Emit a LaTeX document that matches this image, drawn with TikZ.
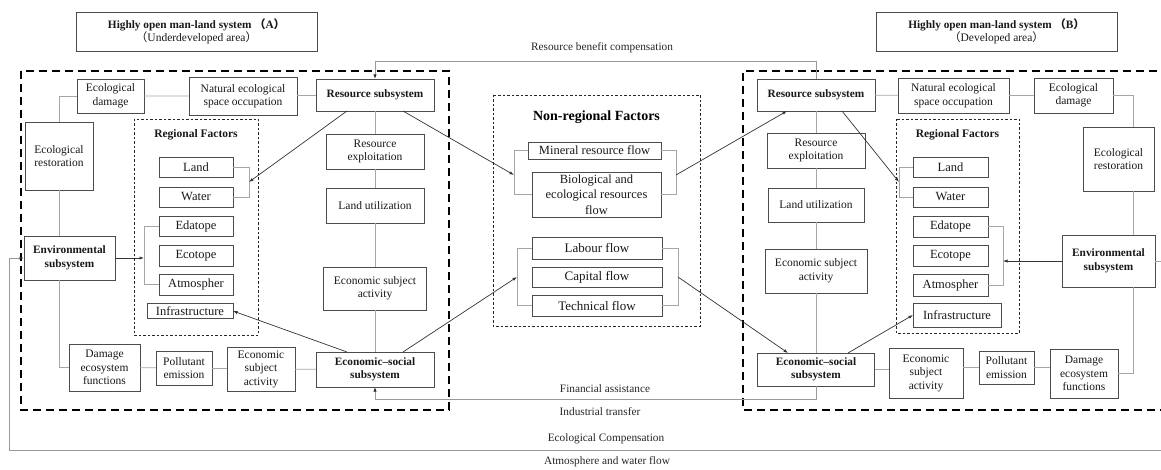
\documentclass[tikz,border=0pt]{standalone}
\usepackage{fontspec}
\setmainfont{Liberation Serif}
\newfontfamily\cjk{Noto Sans CJK SC}
\usetikzlibrary{arrows.meta}
\begin{document}
\begin{tikzpicture}[x=1pt,y=-1pt,
  sz/.style 2 args={minimum width=#1pt,minimum height=#2pt},
  box/.style={draw=black!70,line width=0.9pt,fill=white,align=center,inner sep=1.5pt,outer sep=0pt,text=black!90,font=\fontsize{11.5}{13.5}\selectfont},
  bbox/.style={box,font=\fontsize{11.3}{13.5}\selectfont\bfseries},
  fbox/.style={box,font=\fontsize{12.5}{15.5}\selectfont},
  gbox/.style={box,font=\fontsize{13}{16}\selectfont},
  link/.style={draw=black!35,line width=0.8pt},
  arr/.style={draw=black!80,line width=0.7pt,-{Latex[length=4.5pt,width=3.2pt]}},
  comp/.style={draw=black!40,line width=0.8pt,-{Latex[length=4.5pt,width=3.2pt,color=black!85]}},
  bigdash/.style={draw=black,line width=2pt,dash pattern=on 8pt off 5pt},
  smalldash/.style={draw=black!85,line width=0.7pt,dash pattern=on 2.5pt off 2pt},
  lbl/.style={font=\fontsize{11.3}{13}\selectfont,text=black!85},
  head/.style={font=\fontsize{11.5}{13}\selectfont\bfseries,text=black!90}]
\useasboundingbox (0,0) rectangle (1161,470);
% frames
\draw[bigdash] (21,71) rectangle (449,410);
\draw[bigdash] (1170,71) -- (743,71) -- (743,410) -- (1170,410);
\draw[smalldash] (134,119) rectangle (258,335);
\draw[smalldash] (896,119) rectangle (1019,333);
\draw[smalldash] (493,95) rectangle (700,326);

% system A
\path (196.5,31.5) node[box,sz={241}{39}] (titleA) {{\bfseries\fontsize{11.3}{14}\selectfont Highly open man-land system {\cjk （}A{\cjk ）}}\\{\cjk （}Underdeveloped area{\cjk ）}};
\path (110.5,96) node[box,sz={67}{34}] (ecoDamA) {Ecological\\damage};
\path (243,96) node[box,sz={108}{38}] (natOccA) {Natural ecological\\space occupation};
\path (375,95) node[bbox,sz={118}{32}] (resA) {Resource subsystem};
\path (59,156) node[box,sz={68}{68}] (ecoRestA) {Ecological\\restoration};
\path (69.5,258) node[bbox,sz={91}{44}] (envA) {Environmental\\subsystem};
\path (375,151.5) node[box,sz={98}{35}] (resExpA) {Resource\\exploitation};
\path (375,205.5) node[box,sz={98}{35}] (landUtA) {Land utilization};
\path (375,288.5) node[box,sz={103}{43}] (ecoSubjA) {Economic subject\\activity};
\path (375,369.5) node[bbox,sz={118}{35}] (econSocA) {Economic--social\\subsystem};
\path (104.5,367.5) node[box,sz={71}{47}] (damEcoA) {Damage\\ecosystem\\functions};
\path (184,368) node[box,sz={56}{34}] (pollA) {Pollutant\\emission};
\path (261,369) node[box,sz={68}{44}] (ecoActA) {Economic\\subject\\activity};
\path (196,135) node[head] (regA) {Regional Factors};
\path (196,167) node[fbox,sz={74}{20}] (landA) {Land};
\path (196,197) node[fbox,sz={74}{20}] (waterA) {Water};
\path (196,226) node[fbox,sz={74}{20}] (edaA) {Edatope};
\path (196,255.5) node[fbox,sz={74}{21}] (ecoA) {Ecotope};
\path (196,284.5) node[fbox,sz={74}{21}] (atmA) {Atmospher};
\path (190,311) node[fbox,sz={86}{15},inner ysep=0.5pt] (infraA) {Infrastructure};

% non-regional factors
\path (596.5,117) node[font=\fontsize{14}{16}\selectfont\bfseries] (nonReg) {Non-regional Factors};
\path (594.5,150.5) node[fbox,sz={133}{17}] (minFlow) {Mineral resource flow};
\path (596.5,194.5) node[fbox,sz={129}{45}] (bioFlow) {Biological and\\ecological resources\\flow};
\path (597,248) node[gbox,sz={130}{22}] (labFlow) {Labour flow};
\path (597,277) node[gbox,sz={130}{20}] (capFlow) {Capital flow};
\path (597,305.5) node[gbox,sz={130}{21}] (techFlow) {Technical flow};

% system B
\path (996.5,31.5) node[box,sz={241}{39}] (titleB) {{\bfseries\fontsize{11.3}{14}\selectfont Highly open man-land system {\cjk （}B{\cjk ）}}\\{\cjk （}Developed area{\cjk ）}};
\path (816,95) node[bbox,sz={118}{32}] (resB) {Resource subsystem};
\path (953.5,95.5) node[box,sz={111}{35}] (natOccB) {Natural ecological\\space occupation};
\path (1073.5,95.5) node[box,sz={79}{35}] (ecoDamB) {Ecological\\damage};
\path (1118.5,159) node[box,sz={71}{64}] (ecoRestB) {Ecological\\restoration};
\path (1108.5,261) node[bbox,sz={93}{52}] (envB) {Environmental\\subsystem};
\path (816,150.5) node[box,sz={98}{35}] (resExpB) {Resource\\exploitation};
\path (816,205) node[box,sz={96}{34}] (landUtB) {Land utilization};
\path (816,271) node[box,sz={102}{44}] (ecoSubjB) {Economic subject\\activity};
\path (816,369.5) node[bbox,sz={117}{33}] (econSocB) {Economic--social\\subsystem};
\path (926,373) node[box,sz={74}{50}] (ecoActB) {Economic\\subject\\activity};
\path (1006.5,367.5) node[box,sz={55}{33}] (pollB) {Pollutant\\emission};
\path (1084,373.5) node[box,sz={68}{49}] (damEcoB) {Damage\\ecosystem\\functions};
\path (957.5,135) node[head] (regB) {Regional Factors};
\path (950.5,167) node[fbox,sz={75}{20}] (landB) {Land};
\path (950.5,197) node[fbox,sz={75}{20}] (waterB) {Water};
\path (950.5,226.5) node[fbox,sz={75}{21}] (edaB) {Edatope};
\path (950.5,255.5) node[fbox,sz={75}{21}] (ecoB) {Ecotope};
\path (950.5,285) node[fbox,sz={75}{22}] (atmB) {Atmospher};
\path (957,315) node[fbox,sz={88}{24}] (infraB) {Infrastructure};

% labels of the flows between A and B
\path (602,48) node[lbl] (lblRes) {Resource benefit compensation};
\path (605,389) node[lbl] (lblFin) {Financial assistance};
\path (600,412) node[lbl] (lblInd) {Industrial transfer};
\path (606,439) node[lbl] (lblEco) {Ecological Compensation};
\path (607,462) node[lbl] (lblAtm) {Atmosphere and water flow};

% free ends and bracket points
\coordinate (lwA) at (249,182);
\coordinate (eaA) at (144,258);
\coordinate (mfL) at (514,175);
\coordinate (mfR) at (676,175);
\coordinate (lfL) at (517,277);
\coordinate (lfR) at (678,277);
\coordinate (lwB) at (899,182);
\coordinate (eaB) at (1003,261);
\coordinate (eb) at (1133,0);
\coordinate (ecoRt) at (1170,450);
\coordinate (ecoLf) at (9,450);
\coordinate (envRt) at (1170,261);

% links in A
\draw[link] (ecoDamA) -- (natOccA) -- (resA);
\draw[link] (ecoDamA.west) -| (ecoRestA.north);
\draw[link] (ecoRestA) -- (envA.north -| ecoRestA);
\draw[link] (envA.south -| ecoRestA) |- (damEcoA.west);
\draw[link] (damEcoA) -- (pollA) -- (ecoActA) -- (econSocA);
\draw[link] (resA) -- (resExpA) -- (landUtA) -- (ecoSubjA) -- (econSocA);
\draw[link] (landA.east) -- ++(16,0) |- (waterA.east);
\draw[link] (edaA.west) -- ++(-15,0) |- (atmA.west);

% links in the middle
\draw[link] (minFlow.west) -- ++(-14,0) |- (bioFlow.west);
\draw[link] (minFlow.east) -- ++(15,0) |- (bioFlow.east);
\draw[link] (labFlow.west) -- ++(-15,0) |- (techFlow.west);
\draw[link] (labFlow.east) -- ++(16,0) |- (techFlow.east);

% links in B
\draw[link] (resB) -- (natOccB) -- (ecoDamB);
\draw[link] (ecoDamB.east) -| (ecoRestB.north -| eb);
\draw[link] (ecoRestB.south -| eb) -- (envB.north -| eb);
\draw[link] (envB.south -| eb) |- (damEcoB.east);
\draw[link] (resB) -- (resExpB) -- (landUtB) -- (ecoSubjB) -- (econSocB);
\draw[link] (econSocB.east) -- (econSocB.east -| ecoActB.west);
\draw[link] (ecoActB.east |- pollB) -- (pollB.west);
\draw[link] (pollB.east) -- (pollB.east -| damEcoB.west);
\draw[link] (landB.west) -- ++(-14,0) |- (waterB.west);
\draw[link] (edaB.east) -- ++(15,0) |- (atmB.east);
\draw[link] (envB.east) -- (envRt);

% arrows
\draw[arr] ([xshift=-28]resA.south) -- (lwA);
\draw[arr] ([xshift=28]resA.south) -- (mfL);
\draw[arr] ([xshift=-28]econSocA.north) -- (infraA.east);
\draw[arr] ([xshift=28]econSocA.north) -- (lfL);
\draw[arr] (envA.east) -- (eaA);
\draw[arr] (mfR) -- ([xshift=-29]resB.south);
\draw[arr] (lfR) -- ([xshift=-28]econSocB.north);
\draw[arr] ([xshift=26]resB.south) -- (lwB);
\draw[arr] ([xshift=32]econSocB.north) -- (infraB.west);
\draw[arr] (envB.west) -- (eaB);
\draw[comp] (resB.north) -- ++(0,-18) -| (resA.north);
\draw[comp] (econSocB.south) -- ++(0,13) -| (econSocA.south);
\draw[comp] (ecoRt) -- (ecoLf) |- (envA.west);
\end{tikzpicture}
\end{document}
